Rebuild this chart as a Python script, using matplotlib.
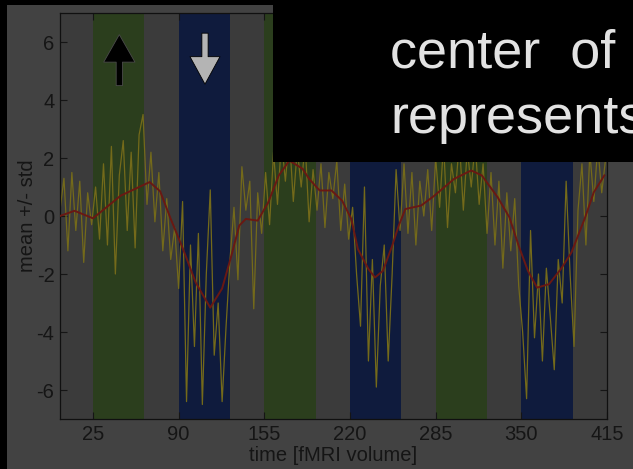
import matplotlib
matplotlib.use("Agg")
import matplotlib.pyplot as plt
import numpy as np
from matplotlib.patches import Rectangle

plt.rcParams["font.family"] = ["Liberation Sans", "DejaVu Sans"]
plt.rcParams["axes.unicode_minus"] = False

# block design (onsets in fMRI volumes)
green_onsets = [25, 155, 285]
blue_onsets = [90, 220, 350]
block_len = 39

# raw signal, sampled every 3 volumes
signal_x = np.arange(0, 415, 3)
signal_y = [
    0.2, 1.3, -1.2, 1.5, -0.5, 1.2, -1.6, 0.8, -0.3,
    1.0, -0.8, 1.8, -1.0, 2.4, -2.0, 1.4, 2.6, -0.5, 2.2, -1.1, 2.8, 3.5,
    0.4, 2.2, -0.2, 1.5, -1.2, 0.6, -1.5, -0.4,
    -2.5, 0.5, -6.4, -1.0, -4.5, -0.6, -6.5, -2.0, 0.9, -4.8, -3.0, -6.4, -3.8, -1.5,
    0.3, -2.2, 1.7, 0.2, 1.2, -3.2, 0.8, -0.6,
    1.5, -0.3, 2.2, 0.4, 2.6, 1.2, 2.8, 0.5, 2.3, 1.0, 2.5, -0.2, 1.6,
    0.2, 1.8, -0.4, 1.5, 0.6, 1.9, -0.5, 1.1, -0.8,
    0.3, -2.0, -3.8, 1.0, -5.0, -1.5, -5.9, -2.4, -1.0, -5.0, -2.0, 1.6, -0.5,
    1.8, -0.6, 1.5, -1.0, 1.2, 0.0, 1.6, -0.5,
    2.0, 0.3, 2.5, -0.4, 1.8, 0.8, 2.6, 0.2, 2.3, 1.0, 2.5, 0.4, 1.8,
    -0.6, 1.5, -1.0, 1.2, -1.8, 0.8, -1.2, 0.6, -2.4,
    -4.0, -6.3, -0.5, -4.2, -2.0, -5.0, -1.8, -3.5, -5.3, -1.5, -3.0, 1.2, -2.0,
    -4.5, 0.2, 1.8, -1.0, 2.2, 0.5, 2.4, 0.8, 2.0,
]

# smoothed mean
mean_x = [0, 11, 25, 46, 68, 76, 84, 93, 103, 114, 123, 130, 136, 141, 150,
          158, 166, 174, 184, 189, 197, 206, 214, 221, 226, 234, 239, 245,
          252, 257, 262, 274, 284, 299, 312, 320, 332, 341, 348, 355, 362,
          371, 380, 388, 398, 405, 413]
mean_y = [0.0, 0.18, -0.08, 0.7, 1.17, 0.85, -0.1, -1.1, -2.3, -3.16, -2.5,
          -1.37, -0.33, -0.1, -0.16, 0.47, 1.4, 1.91, 1.63, 1.28, 0.88, 0.88,
          0.53, -0.1, -1.14, -1.83, -2.12, -1.89, -1.03, -0.33, 0.24, 0.36,
          0.7, 1.28, 1.57, 1.4, 0.65, -0.05, -1.03, -1.89, -2.47, -2.35,
          -1.83, -1.26, -0.1, 0.82, 1.4]

x_ticks = [25, 90, 155, 220, 285, 350, 415]
y_ticks = [-6, -4, -2, 0, 2, 4, 6]

W, H = 633, 469
fig = plt.figure(figsize=(W / 100, H / 100), dpi=100, facecolor="black")
fig.add_artist(Rectangle((7 / W, 0), 1 - 7 / W, (H - 5) / H,
                         transform=fig.transFigure, fc="#424242", ec="none",
                         zorder=-5))

ax = fig.add_axes([60 / W, (H - 419) / H, (607 - 60) / W, (419 - 13) / H])
ax.set_facecolor("#3b3b3b")
for x0 in green_onsets:
    ax.axvspan(x0, x0 + block_len, color="#2b3e1d", lw=0, zorder=0)
for x0 in blue_onsets:
    ax.axvspan(x0, x0 + block_len, color="#0f1b3d", lw=0, zorder=0)

ax.plot(signal_x, signal_y, color="#746a1a", lw=0.9, zorder=2)
ax.plot(mean_x, mean_y, color="#6a1812", lw=1.4, zorder=3)

ax.annotate("", xy=(45, 6.35), xytext=(45, 4.4),
            arrowprops=dict(arrowstyle="simple,head_length=1.1,head_width=1.25,tail_width=0.25",
                            mutation_scale=18, fc="black", ec="#4a4a4a", lw=0.6))
ax.annotate("", xy=(110, 4.45), xytext=(110, 6.4),
            arrowprops=dict(arrowstyle="simple,head_length=1.1,head_width=1.2,tail_width=0.25",
                            mutation_scale=18, fc="#b4b4b4", ec="black", lw=0.6))

ax.set_xlim(0, 415)
ax.set_ylim(-7, 7)
ax.set_xticks(x_ticks)
ax.set_yticks(y_ticks)
ax.tick_params(direction="in", length=5, width=0.8, colors="#151515",
               labelsize=14.5, top=True, right=True, pad=4)
for s in ax.spines.values():
    s.set_color("#101010")
    s.set_linewidth(0.9)
ax.set_xlabel("time [fMRI volume]", fontsize=14.5, color="#151515", labelpad=2)
ax.set_ylabel("mean +/- std", fontsize=14.5, color="#151515", labelpad=0)

# overlay caption box
fig.add_artist(Rectangle((273 / W, (H - 162) / H), 1 - 273 / W, 162 / H,
                         transform=fig.transFigure, fc="black", ec="none",
                         zorder=5))
fig.text(390 / W, (H - 67) / H, "center  of", fontsize=39, color="#e2e2e2",
         ha="left", va="baseline", zorder=6)
fig.text(390 / W, (H - 133) / H, "represents", fontsize=39, color="#e2e2e2",
         ha="left", va="baseline", zorder=6)

fig.savefig("out.png", dpi=100, facecolor=fig.get_facecolor())
